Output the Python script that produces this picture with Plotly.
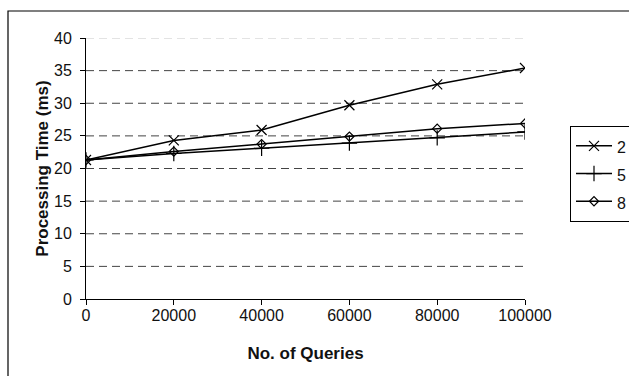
import plotly.graph_objects as go

queries = [0, 20000, 40000, 60000, 80000, 100000]
series_names = ["2", "5", "8"]
vals_2 = [21.3, 24.3, 25.9, 29.7, 32.9, 35.4]
vals_5 = [21.3, 22.3, 23.1, 23.9, 24.7, 25.6]
vals_8 = [21.3, 22.6, 23.75, 24.9, 26.1, 26.9]
y_ticks = [0, 5, 10, 15, 20, 25, 30, 35, 40]
x_ticks = [0, 20000, 40000, 60000, 80000, 100000]

symbols = ["x-thin-open", "cross-thin-open", "diamond-open"]
sizes = [10, 11, 7]
all_vals = [vals_2, vals_5, vals_8]

fig = go.Figure()
for name, vals, sym, sz in zip(series_names, all_vals, symbols, sizes):
    fig.add_trace(go.Scatter(
        x=queries, y=vals, name=f"<span style='font-size:16px'>{name}</span>",
        mode="lines+markers",
        line=dict(color="black", width=1.5),
        marker=dict(symbol=sym, size=sz, color="black",
                    line=dict(color="black", width=1.2)),
    ))

# dashed gridlines
for t in y_ticks[1:]:
    fig.add_shape(type="line", xref="x", yref="y",
                  x0=x_ticks[0], x1=x_ticks[-1], y0=t, y1=t,
                  line=dict(color="#c8c8c8" if t == y_ticks[-1] else "#444444",
                            width=1, dash="8px,5px"),
                  layer="below")

# outer frame
fig.add_shape(type="rect", xref="paper", yref="paper",
              x0=(8 - 86) / 439, x1=(640 - 86) / 439,
              y0=(299 - 390) / 261, y1=(299 - 11) / 261,
              line=dict(color="black", width=1.2), fillcolor="rgba(0,0,0,0)")

font = "Liberation Sans, Arial, sans-serif"
fig.update_layout(
    width=629, height=376,
    margin=dict(l=86, r=104, t=38, b=77, autoexpand=False),
    paper_bgcolor="white", plot_bgcolor="white",
    font=dict(family=font, size=16, color="#111"),
    showlegend=True,
    legend=dict(xref="container", yref="container",
                x=570 / 629, y=1 - 126 / 376,
                xanchor="left", yanchor="top",
                bordercolor="black", borderwidth=1, bgcolor="white",
                font=dict(size=19, color="#111"),
                itemwidth=36,
                tracegroupgap=0),
    xaxis=dict(range=[0, 100000], tickvals=x_ticks,
               ticktext=[str(v) for v in x_ticks],
               showgrid=False, zeroline=False, showline=True,
               linecolor="black", linewidth=1,
               ticks="outside", ticklen=5, tickcolor="black",
               ticklabelstandoff=-3,
               tickfont=dict(size=16),
               title=dict(text="<b>No. of Queries</b>", font=dict(size=17), standoff=23)),
    yaxis=dict(range=[0, 40], tickvals=y_ticks,
               showgrid=False, zeroline=False, showline=True,
               linecolor="black", linewidth=1,
               ticks="outside", ticklen=5, tickcolor="black",
               ticklabelstandoff=5,
               tickfont=dict(size=16),
               title=dict(text="<b>Processing Time (ms)</b>", font=dict(size=17), standoff=1)),
)
fig.write_html("out.html")
